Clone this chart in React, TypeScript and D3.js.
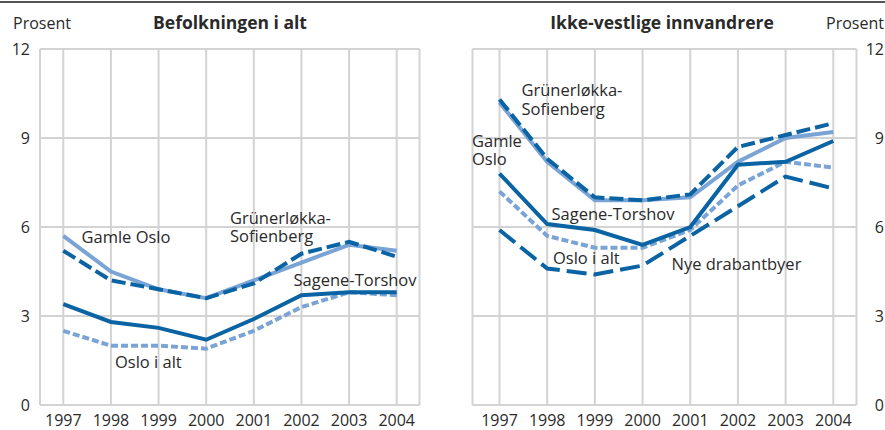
import React from "react";
import * as d3 from "d3";

const years = [1997, 1998, 1999, 2000, 2001, 2002, 2003, 2004];
const yTicks = [0, 3, 6, 9, 12];

// Befolkningen i alt
const leftGamleOslo = [5.7, 4.5, 3.9, 3.6, 4.2, 4.8, 5.4, 5.2];
const leftGrunerlokka = [5.2, 4.2, 3.9, 3.6, 4.1, 5.1, 5.5, 5.0];
const leftSagene = [3.4, 2.8, 2.6, 2.2, 2.9, 3.7, 3.8, 3.8];
const leftOslo = [2.5, 2.0, 2.0, 1.9, 2.5, 3.3, 3.8, 3.7];

// Ikke-vestlige innvandrere
const rightGamleOslo = [10.2, 8.2, 6.9, 6.9, 7.0, 8.2, 9.0, 9.2];
const rightGrunerlokka = [10.3, 8.3, 7.0, 6.9, 7.1, 8.7, 9.1, 9.5];
const rightSagene = [7.8, 6.1, 5.9, 5.4, 6.0, 8.1, 8.2, 8.9];
const rightOslo = [7.2, 5.7, 5.3, 5.3, 5.9, 7.4, 8.2, 8.0];
const rightNye = [5.9, 4.6, 4.4, 4.7, 5.7, 6.7, 7.7, 7.3];

const DARK = "#0a63a3";
const LIGHT = "#79a4d5";
const GRID = "#d3d3d3";
const TEXT = "#2a2a2a";
const FONT = "'Open Sans', 'Noto Sans', sans-serif";

type Style = { color: string; dash?: string };
const sGamle: Style = { color: LIGHT };
const sOslo: Style = { color: LIGHT, dash: "7,3" };
const sSagene: Style = { color: DARK };
const sGruner: Style = { color: DARK, dash: "14,5" };
const sNye: Style = { color: DARK, dash: "20,7" };

type Label = { lines: string[]; x: number; y: number };

type PanelProps = {
  boxLeft: number;
  boxRight: number;
  xFirst: number;
  xLast: number;
  series: { values: number[]; style: Style }[];
  labels: Label[];
  tickSide: "left" | "right";
};

const TOP = 49;
const BOTTOM = 405;

function Panel({ boxLeft, boxRight, xFirst, xLast, series, labels, tickSide }: PanelProps) {
  const x = d3.scaleLinear().domain([1997, 2004]).range([xFirst, xLast]);
  const y = d3.scaleLinear().domain([0, 12]).range([BOTTOM, TOP]);
  const line = d3
    .line<number>()
    .x((_, i) => x(years[i]))
    .y((d) => y(d));
  return (
    <g>
      {yTicks.map((t) => (
        <line key={"h" + t} x1={boxLeft} x2={boxRight} y1={y(t)} y2={y(t)} stroke={GRID} strokeWidth={2} />
      ))}
      <line x1={boxLeft} x2={boxLeft} y1={TOP} y2={BOTTOM} stroke={GRID} strokeWidth={2} />
      <line x1={boxRight} x2={boxRight} y1={TOP} y2={BOTTOM} stroke={GRID} strokeWidth={2} />
      {years.map((yr) => (
        <line key={"v" + yr} x1={x(yr)} x2={x(yr)} y1={TOP} y2={BOTTOM} stroke={GRID} strokeWidth={2} />
      ))}
      {series.map((s, i) => (
        <path
          key={"s" + i}
          d={line(s.values) || ""}
          fill="none"
          stroke={s.style.color}
          strokeWidth={4}
          strokeDasharray={s.style.dash}
        />
      ))}
      {years.map((yr) => (
        <text key={"xl" + yr} x={x(yr)} y={425.5} textAnchor="middle" fontSize={16} fill={TEXT} fontFamily={FONT}>
          {yr}
        </text>
      ))}
      {yTicks.map((t) => (
        <text
          key={"yl" + t}
          x={tickSide === "left" ? 30 : 884}
          y={y(t)}
          dy="0.36em"
          textAnchor="end"
          fontSize={16}
          fill={TEXT}
          fontFamily={FONT}
        >
          {t}
        </text>
      ))}
      {labels.map((l, i) => (
        <text key={"lb" + i} x={l.x} y={l.y} fontSize={16.5} fill={TEXT} fontFamily={FONT}>
          {l.lines.map((ln, j) => (
            <tspan key={j} x={l.x} dy={j === 0 ? 0 : 18.5}>
              {ln}
            </tspan>
          ))}
        </text>
      ))}
    </g>
  );
}

export default function App() {
  return (
    <svg
      width={885}
      height={430}
      style={{ position: "absolute", left: 0, top: 0, background: "#fff" }}
    >
      <line x1={0} x2={885} y1={2} y2={2} stroke="#1a1a1a" strokeWidth={1.5} />
      <text x={13} y={29} fontSize={16} fill={TEXT} fontFamily={FONT}>
        Prosent
      </text>
      <text x={230} y={29} textAnchor="middle" fontSize={17.5} fontWeight="bold" fill={TEXT} fontFamily={FONT}>
        Befolkningen i alt
      </text>
      <text x={662} y={29} textAnchor="middle" fontSize={17.5} fontWeight="bold" fill={TEXT} fontFamily={FONT}>
        Ikke-vestlige innvandrere
      </text>
      <text x={884} y={29} textAnchor="end" fontSize={16} fill={TEXT} fontFamily={FONT}>
        Prosent
      </text>
      <Panel
        boxLeft={40}
        boxRight={419.5}
        xFirst={63.3}
        xLast={396.7}
        tickSide="left"
        series={[
          { values: leftGamleOslo, style: sGamle },
          { values: leftOslo, style: sOslo },
          { values: leftSagene, style: sSagene },
          { values: leftGrunerlokka, style: sGruner },
        ]}
        labels={[
          { lines: ["Gamle Oslo"], x: 81.5, y: 242.5 },
          { lines: ["Grünerløkka-", "Sofienberg"], x: 230, y: 223.5 },
          { lines: ["Sagene-Torshov"], x: 293.5, y: 285.5 },
          { lines: ["Oslo i alt"], x: 115, y: 367.5 },
        ]}
      />
      <Panel
        boxLeft={472.5}
        boxRight={856.5}
        xFirst={499.5}
        xLast={833.3}
        tickSide="right"
        series={[
          { values: rightGamleOslo, style: sGamle },
          { values: rightOslo, style: sOslo },
          { values: rightSagene, style: sSagene },
          { values: rightNye, style: sNye },
          { values: rightGrunerlokka, style: sGruner },
        ]}
        labels={[
          { lines: ["Grünerløkka-", "Sofienberg"], x: 521.5, y: 96 },
          { lines: ["Gamle", "Oslo"], x: 472, y: 146.5 },
          { lines: ["Sagene-Torshov"], x: 551.5, y: 219.5 },
          { lines: ["Oslo i alt"], x: 553, y: 263.5 },
          { lines: ["Nye drabantbyer"], x: 671.5, y: 270 },
        ]}
      />
    </svg>
  );
}
